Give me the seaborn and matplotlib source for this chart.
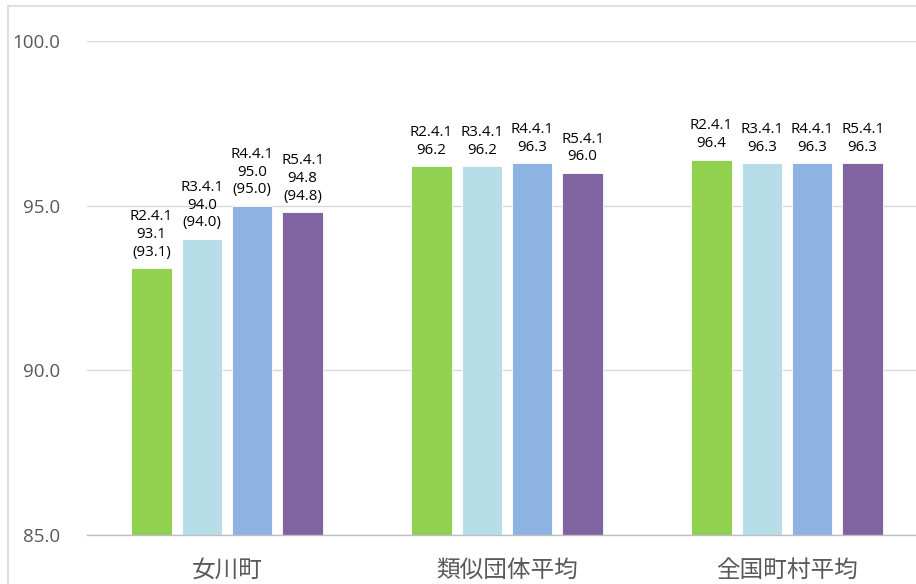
import matplotlib
matplotlib.use("Agg")
import matplotlib.pyplot as plt
import seaborn as sns
import pandas as pd
from matplotlib.patches import Rectangle
from matplotlib.ticker import FuncFormatter, FixedLocator

categories = ["女川町", "類似団体平均", "全国町村平均"]
periods = ["R2.4.1", "R3.4.1", "R4.4.1", "R5.4.1"]
onagawa = [93.1, 94.0, 95.0, 94.8]
ruiji = [96.2, 96.2, 96.3, 96.0]
zenkoku = [96.4, 96.3, 96.3, 96.3]
onagawa_paren = [93.1, 94.0, 95.0, 94.8]
colors = ["#92D050", "#B7DEE8", "#8DB3E2", "#8064A2"]

rows = []
for cat, vals in zip(categories, [onagawa, ruiji, zenkoku]):
    for p, v in zip(periods, vals):
        rows.append({"cat": cat, "period": p, "value": v})
df = pd.DataFrame(rows)

sns.set_style("white")
plt.rcParams['font.family'] = ['Open Sans', 'Noto Sans CJK JP', 'DejaVu Sans']

fig = plt.figure(figsize=(9.16, 5.84), dpi=100)
W, H = 916, 584
ax = fig.add_axes([87 / W, 1 - 535 / H, (927 - 87) / W, (535 - 41) / H])

sns.barplot(data=df, x="cat", y="value", hue="period", palette=colors,
            width=0.72, gap=0.2, ax=ax, legend=False, edgecolor="white",
            linewidth=0.6, saturation=1)

ax.set_ylim(85, 100)
ax.set_xlim(-0.5, 2.5)
ax.yaxis.set_major_locator(FixedLocator([85, 90, 95, 100]))
ax.yaxis.set_major_formatter(FuncFormatter(lambda v, p: f"{v:.1f}"))
ax.grid(axis="y", color="#D9D9D9", linewidth=1)
ax.set_axisbelow(True)
for s in ["left", "right", "top"]:
    ax.spines[s].set_visible(False)
ax.spines["bottom"].set_color("#BFBFBF")
ax.spines["bottom"].set_linewidth(1)
ax.tick_params(axis="y", length=0, pad=19, labelsize=13.5, labelcolor="#595959")
ax.tick_params(axis="x", which="major", length=0, pad=17, labelcolor="#595959")
for lab in ax.get_xticklabels():
    lab.set_fontfamily(['Noto Sans CJK JP', 'DejaVu Sans'])
    lab.set_fontsize(17)
ax.set_xticks([-0.5, 0.5, 1.5, 2.5], minor=True)
ax.tick_params(axis="x", which="minor", length=8, color="#BFBFBF", width=1)
ax.set_xlabel("")
ax.set_ylabel("")

# data labels
for i, container in enumerate(ax.containers):
    for j, bar in enumerate(container):
        val = bar.get_height()
        if j == 0:
            txt = f"{periods[i]}\n{val:.1f}\n({onagawa_paren[i]:.1f})"
        else:
            txt = f"{periods[i]}\n{val:.1f}"
        ax.annotate(txt, (bar.get_x() + bar.get_width() / 2, val),
                    xytext=(0, 6), textcoords="offset points",
                    ha="center", va="bottom", fontsize=10.8, color="#000000",
                    linespacing=1.25)

# outer chart border
fig.patches.append(Rectangle((8 / W, -0.1), 1.2, 1 - 6 / H + 0.1,
                             transform=fig.transFigure, fill=False,
                             edgecolor="#D9D9D9", linewidth=1.2))

fig.savefig("out.png", dpi=100)
